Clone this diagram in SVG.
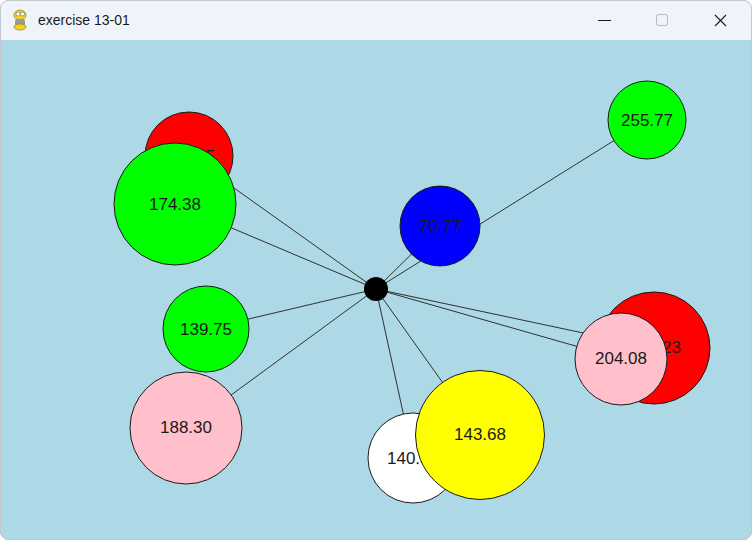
<svg xmlns="http://www.w3.org/2000/svg" width="752" height="540" viewBox="0 0 752 540">
<defs>
<style>
.win{fill:#add8e6;stroke:#c4c7cc;stroke-width:1}
.bar{fill:#eff3fa}
.title{font-family:"Liberation Sans","Noto Sans",sans-serif;font-size:14px;fill:#1a1a1a}
.conn line{stroke:#303030;stroke-width:1}
.node circle{stroke:#1a1a1a;stroke-width:1}
.node text{font-family:"Liberation Sans",Arial,sans-serif;font-size:17px;fill:#1a1a1a;text-anchor:middle;dominant-baseline:central}
.red{fill:#ff0000}.green{fill:#00ff00}.blue{fill:#0000ff}.pink{fill:#ffc0cb}.white{fill:#ffffff}.yellow{fill:#ffff00}
</style>
<clipPath id="winclip"><rect x="0.5" y="0.5" width="751" height="539" rx="8"/></clipPath>
</defs>
<g id="window">
<rect class="win" x="0.5" y="0.5" width="751" height="539" rx="8"/>
<g clip-path="url(#winclip)">
<rect class="bar" x="0" y="0" width="752" height="40"/>
</g>
<rect x="0.5" y="0.5" width="751" height="539" rx="8" fill="none" stroke="#c4c7cc"/>
<g id="icon">
<ellipse cx="20" cy="15" rx="6" ry="5" fill="#f2d12a" stroke="#a08a10" stroke-width="0.8"/>
<circle cx="18" cy="14" r="2" fill="#fff" stroke="#555" stroke-width="0.5"/>
<circle cx="22.5" cy="14" r="2" fill="#fff" stroke="#555" stroke-width="0.5"/>
<rect x="15" y="19" width="10" height="7" rx="2" fill="#9a9a9a"/>
<ellipse cx="20" cy="27" rx="6" ry="3" fill="#f2d12a" stroke="#a08a10" stroke-width="0.8"/>
</g>
<text class="title" x="38" y="25">exercise 13-01</text>
<line x1="598" y1="20.5" x2="611" y2="20.5" stroke="#1a1a1a" stroke-width="1"/>
<rect x="656.5" y="14.5" width="11" height="11" rx="2" fill="none" stroke="#b8b8b8" stroke-width="1"/>
<path d="M715 15 L726 26 M726 15 L715 26" stroke="#1a1a1a" stroke-width="1.1" fill="none"/>
</g>
<g id="connectors" class="conn">
<line x1="376" y1="289" x2="189" y2="156"/>
<line x1="376" y1="289" x2="175" y2="204"/>
<line x1="376" y1="289" x2="647" y2="120"/>
<line x1="376" y1="289" x2="440" y2="226"/>
<line x1="376" y1="289" x2="206" y2="329"/>
<line x1="376" y1="289" x2="186" y2="428"/>
<line x1="376" y1="289" x2="413" y2="458"/>
<line x1="376" y1="289" x2="480" y2="435"/>
<line x1="376" y1="289" x2="654" y2="348"/>
<line x1="376" y1="289" x2="621" y2="359"/>
</g>
<g id="node-red-1" class="node"><circle class="red" cx="189" cy="156" r="44"/><text x="189" y="156">176.35</text></g>
<g id="node-174-38" class="node"><circle class="green" cx="175" cy="204" r="61"/><text x="175" y="204">174.38</text></g>
<g id="node-255-77" class="node"><circle class="green" cx="647" cy="120" r="39"/><text x="647" y="120">255.77</text></g>
<g id="node-70-77" class="node"><circle class="blue" cx="440" cy="226" r="40"/><text x="440" y="226">70.77</text></g>
<g id="node-139-75" class="node"><circle class="green" cx="206" cy="329" r="43"/><text x="206" y="329">139.75</text></g>
<g id="node-188-30" class="node"><circle class="pink" cx="186" cy="428" r="56"/><text x="186" y="427">188.30</text></g>
<g id="node-140" class="node"><circle class="white" cx="413" cy="458" r="45"/><text x="413" y="458">140.55</text></g>
<g id="node-143-68" class="node"><circle class="yellow" cx="480" cy="435" r="64.5"/><text x="480" y="434">143.68</text></g>
<g id="node-red-2" class="node"><circle class="red" cx="654" cy="348" r="56"/><text x="681" y="347" style="text-anchor:end">23</text></g>
<g id="node-204-08" class="node"><circle class="pink" cx="621" cy="359" r="46"/><text x="621" y="358">204.08</text></g>
<g id="hub"><circle cx="376" cy="289" r="12" fill="#000"/></g>
</svg>
